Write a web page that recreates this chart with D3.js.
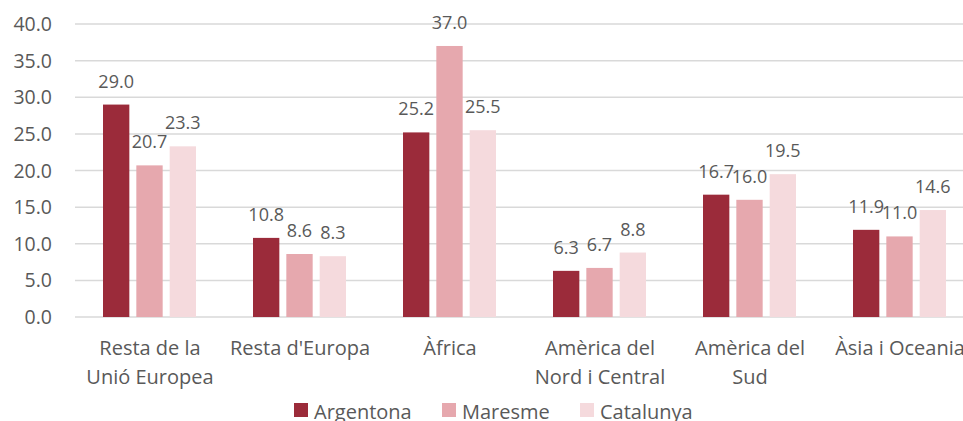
<!DOCTYPE html>
<html><head><meta charset="utf-8">
<script src="https://cdn.jsdelivr.net/npm/d3@7"></script>
<style>body{margin:0;background:#fff;overflow:hidden}svg{display:block}</style>
</head><body>
<script>
const categories = ["Resta de la Unió Europea","Resta d'Europa","Àfrica","Amèrica del Nord i Central","Amèrica del Sud","Àsia i Oceania"];
const categoryLines = [["Resta de la","Unió Europea"],["Resta d'Europa"],["Àfrica"],["Amèrica del","Nord i Central"],["Amèrica del","Sud"],["Àsia i Oceania"]];
const seriesNames = ["Argentona","Maresme","Catalunya"];
const argentona = [29.0,10.8,25.2,6.3,16.7,11.9];
const maresme = [20.7,8.6,37.0,6.7,16.0,11.0];
const catalunya = [23.3,8.3,25.5,8.8,19.5,14.6];
const yTicks = [0,5,10,15,20,25,30,35,40];
const colors = ["#9B2B3A","#E6A8AE","#F5DADD"];
const series = [argentona, maresme, catalunya];

const W=963,H=421, font="'Open Sans', sans-serif", txt="#595959";
const svg=d3.select("body").append("svg").attr("width",W).attr("height",H);
const y=d3.scaleLinear().domain([0,40]).range([317,24]);
const x=d3.scaleBand().domain(categories).range([75,975]);
const xs=d3.scaleBand().domain(seriesNames).range([0,100]).paddingInner(0.21).paddingOuter(0);

svg.append("g").selectAll("line").data(yTicks).join("line")
  .attr("x1",75).attr("x2",W).attr("y1",d=>y(d)).attr("y2",d=>y(d))
  .attr("stroke","#d9d9d9").attr("stroke-width",1.5);
svg.append("g").selectAll("text").data(yTicks).join("text")
  .attr("x",52).attr("y",d=>y(d)).attr("dy","0.36em").attr("text-anchor","end")
  .attr("font-family",font).attr("font-size",19.5).attr("fill",txt).text(d=>d.toFixed(1));

series.forEach((vals,si)=>{
  const g=svg.append("g");
  g.selectAll("rect").data(vals).join("rect")
    .attr("x",(d,i)=>x(categories[i])+x.bandwidth()/2-47+xs(seriesNames[si])*0.93)
    .attr("width",xs.bandwidth()*0.93)
    .attr("y",d=>y(d)).attr("height",d=>y(0)-y(d)).attr("fill",colors[si]);
  g.selectAll("text").data(vals).join("text")
    .attr("x",(d,i)=>x(categories[i])+x.bandwidth()/2-47+xs(seriesNames[si])*0.93+xs.bandwidth()*0.93/2)
    .attr("y",d=>y(d)-17).attr("text-anchor","middle")
    .attr("font-family",font).attr("font-size",18).attr("fill",txt).text(d=>d.toFixed(1));
});

const cl=svg.append("g");
categories.forEach((c,i)=>{
  const t=cl.append("text").attr("text-anchor","middle").attr("font-family",font).attr("font-size",20).attr("fill",txt);
  categoryLines[i].forEach((l,j)=>t.append("tspan").attr("x",x(c)+x.bandwidth()/2).attr("y",355+j*29).text(l));
});

const legX=[294,442,580];
const lg=svg.append("g");
seriesNames.forEach((s,i)=>{
  lg.append("rect").attr("x",legX[i]).attr("y",403).attr("width",14).attr("height",14).attr("fill",colors[i]);
  lg.append("text").attr("x",legX[i]+20).attr("y",418.5).attr("font-family",font).attr("font-size",20).attr("fill",txt).text(s);
});
</script>
</body></html>
